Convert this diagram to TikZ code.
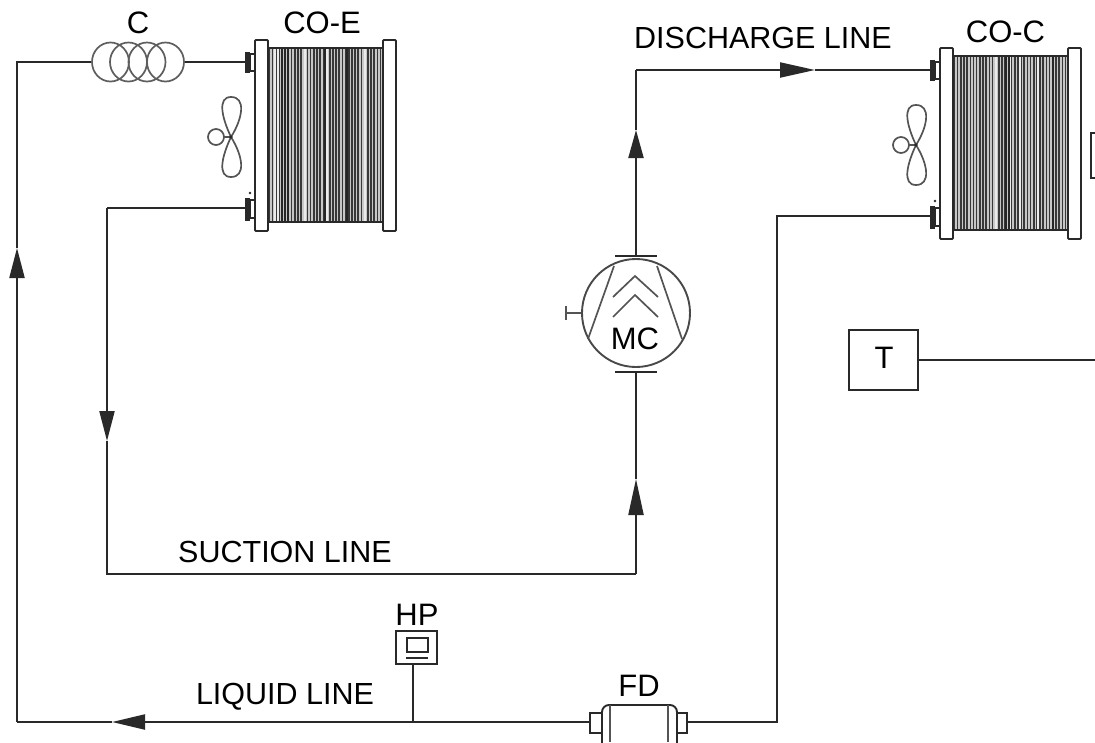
\documentclass[tikz,border=0pt]{standalone}
\usepackage{fontspec}
\setmainfont{Liberation Sans}
\usetikzlibrary{arrows.meta,shapes.geometric}
\definecolor{ink}{gray}{0.16}
\tikzset{
  pipe/.style={draw=ink,line width=2.1pt},
  flow/.style={pipe,-{Triangle[length=#1,width=15pt]}},
  flow/.default=30pt,
  part/.style={draw=ink,line width=1.9pt,fill=white},
  thin part/.style={draw=ink!80,line width=1.7pt},
  coil/.style={draw=ink!75,line width=1.7pt,ellipse,minimum width=37pt,minimum height=39pt,inner sep=0pt},
  lbl/.style={font=\fontsize{30.5}{32}\selectfont,text=black,inner sep=0pt},
  smalllbl/.style={font=\fontsize{31}{32}\selectfont,text=black,inner sep=0pt},
  pics/hx/.style n args={2}{code={
    \fill[black!22] (13,8) rectangle (128,182);
    \foreach \i in {0,...,35}{\draw[black!78,line width=1.55pt] ({14.5+3.17*\i},8) -- ({14.5+3.17*\i},182);}
    \foreach \i in {#1}{\draw[white!92!black,line width=1.8pt] (\i,8) -- (\i,182);}
    \foreach \i in {#2}{\draw[black!85,line width=2.6pt] (\i,8) -- (\i,182);}
    \draw[pipe,line width=1.9pt] (13,8) -- (128,8) (13,182) -- (128,182);
    \draw[part,rounded corners=1pt] (0,0) rectangle (13,191);
    \draw[part,rounded corners=1pt] (128,0) rectangle (141,191);
    \fill[ink] (-10,12) rectangle (-5,33);
    \draw[part,line width=1.5pt] (-5,14) rectangle (0,31);
    \fill[ink] (-10,158) rectangle (-5,181);
    \draw[part,line width=1.5pt] (-5,160) rectangle (0,178);
    \fill[ink] (-5,153) circle (1.3);
    \coordinate (-in) at (-10,22);
    \coordinate (-out) at (-10,168);
    \coordinate (-fan) at (-24,97);
    \draw[thin part] (-fan) .. controls (-33,78) and (-38,57) .. (-24,57) .. controls (-9,57) and (-12,78) .. (-fan);
    \draw[thin part] (-fan) .. controls (-33,116) and (-38,137) .. (-24,137) .. controls (-9,137) and (-12,116) .. (-fan);
    \draw[thin part] (-39,97) circle (8);
    \draw[thin part] (-31,97) -- (-fan);
    \fill[ink] (-fan) circle (1.8);
  }}
}
\begin{document}
\begin{tikzpicture}[x=1pt,y=-1pt]
\useasboundingbox (0,0) rectangle (1095,742);
% exchangers
\pic (coe) at (255,40) {hx={20,23,50,72,110}{27,30,33,70,92}};
\pic (coc) at (940,48) {hx={56,70,80,98}{66,69,113}};
% capillary coil
\node[coil] (c1) at (110.5,62) {};
\node[coil] (c2) at (128.5,62) {};
\node[coil] (c3) at (147,62) {};
\node[coil] (c4) at (165.5,62) {};
% compressor
\node[circle,draw=ink!85,line width=1.9pt,minimum size=108pt,inner sep=0pt] (mc) at (636,313) {};
\draw[thin part] (614,266) -- (588,339) (657,266) -- (682,339);
\draw[thin part] (613,297) -- (635,276) -- (658,297) (613,317) -- (635,295) -- (658,317);
\node[smalllbl] at (635,339) {MC};
\coordinate (mctop) at (636,256);
\coordinate (mcbot) at (636,372);
\draw[pipe] (615,256) -- (657,256) (615,372) -- (657,372);
\coordinate (stub) at (566,313);
\draw[thin part] (mc.west) -- (stub) (566,306) -- (566,320);
% filter drier
\draw[part] (590,713) rectangle (602,733);
\draw[part] (677,713) rectangle (687,733);
\draw[part,rounded corners=7pt] (602,705) rectangle (677,752);
\draw[thin part] (610,705) -- (610,742) (668,705) -- (668,742);
\node[inner sep=0pt,minimum width=97pt,minimum height=20pt] (fd) at (638.5,722) {};
% HP
\node[draw=ink,line width=1.7pt,fill=white,minimum width=41pt,minimum height=33pt,inner sep=0pt] (hp) at (416.5,647.5) {};
\draw[part,line width=1.6pt] (407,638) rectangle (428,652);
\draw[pipe,line width=2.2pt] (406,658) -- (428,658);
% T and cut-off box
\node[draw=ink,line width=1.7pt,minimum width=69pt,minimum height=60pt,inner sep=0pt] (t) at (883.5,360) {};
\node[smalllbl] at (884,358) {T};
\coordinate (tend) at (1095,360);
\draw[pipe] (t.east) -- (tend);
\draw[part] (1100,133) -- (1091,133) -- (1091,178) -- (1100,178);
% routing coordinates
\coordinate (la) at (17,62);
\coordinate (lb) at (17,722);
\coordinate (ltip) at (17,248);
\coordinate (sa) at (107,208);
\coordinate (sb) at (107,574);
\coordinate (stip) at (107,441);
\coordinate (sc) at (636,574);
\coordinate (suptip) at (636,479);
\coordinate (da) at (636,70);
\coordinate (duptip) at (636,130);
\coordinate (drtip) at (815,70);
\coordinate (lqtip) at (112,722);
\coordinate (hpj) at (413,722);
\coordinate (ra) at (777,722);
\coordinate (rb) at (777,216);
% connectors
\draw[pipe] (c4.east) -- (coe-in);
\draw[pipe] (c1.west) -- (la) -- (ltip);
\draw[flow] (lb) -- (ltip);
\draw[flow] (sa) -- (stip);
\draw[pipe] (coe-out) -- (sa);
\draw[pipe] (stip) -- (sb) -- (sc);
\draw[pipe] (suptip) -- (mcbot);
\draw[flow=36pt] (sc) -- (suptip);
\draw[flow=28pt] (mctop) -- (duptip);
\draw[pipe] (duptip) -- (da);
\draw[flow=35pt] (da) -- (drtip);
\draw[pipe] (drtip) -- (coc-in);
\draw[flow=33pt] (fd.west) -- (lqtip);
\draw[pipe] (lqtip) -- (lb);
\draw[pipe] (hp.south -| hpj) -- (hpj);
\draw[pipe] (fd.east) -- (ra) -- (rb) -- (coc-out);
% labels
\node[smalllbl] at (138,23) {C};
\node[smalllbl] at (322,23) {CO-E};
\node[smalllbl] at (1005.5,32) {CO-C};
\node[lbl] at (763,38) {DISCHARGE LINE};
\node[lbl] at (285,552) {SUCTION LINE};
\node[lbl] at (285,697) {LIQUID LINE};
\node[smalllbl] at (417,615) {HP};
\node[smalllbl] at (639,686) {FD};
\end{tikzpicture}
\end{document}
